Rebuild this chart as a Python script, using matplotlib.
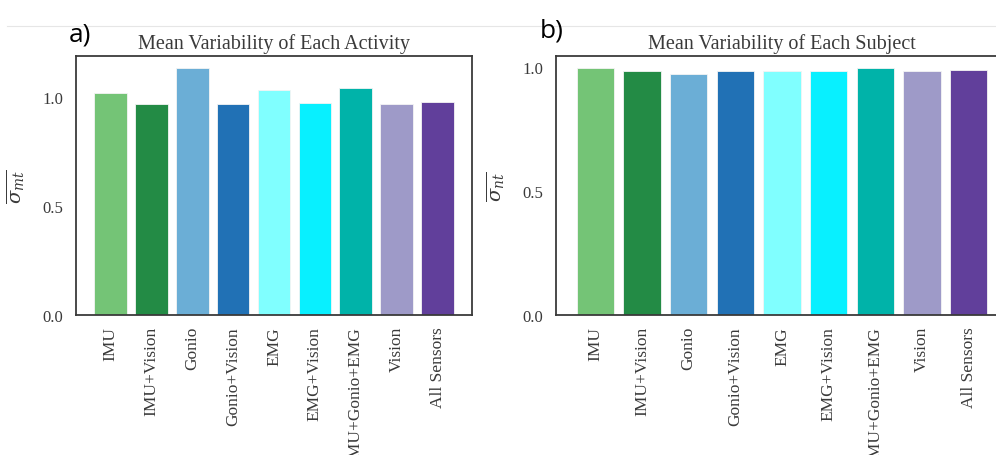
import matplotlib
matplotlib.use("Agg")
import matplotlib.pyplot as plt
from matplotlib.lines import Line2D

# sensor combinations shown on both panels
sensors = ["IMU", "IMU+Vision", "Gonio", "Gonio+Vision", "EMG",
           "EMG+Vision", "IMU+Gonio+EMG", "Vision", "All Sensors"]

# mean variability per activity (panel a) and per subject (panel b)
activity_var = [1.015, 0.966, 1.130, 0.966, 1.032, 0.972, 1.038, 0.966, 0.978]
subject_var = [0.996, 0.987, 0.973, 0.987, 0.987, 0.987, 0.996, 0.987, 0.991]

bar_colors = ["#74c476", "#238b45", "#6baed6", "#2171b5", "#80ffff",
              "#08f0ff", "#00b3a9", "#9e9ac8", "#613f9b"]

plt.rcParams["font.family"] = ["Liberation Serif", "DejaVu Serif"]
plt.rcParams["mathtext.fontset"] = "dejavuserif"

fig = plt.figure(figsize=(9.96, 4.56), dpi=100)

# faint rule across the top of the page
fig.add_artist(Line2D([0.007, 1.0], [1 - 27 / 456, 1 - 27 / 456],
                      color="#e6e6e6", lw=0.8))

ax1 = fig.add_axes([76 / 996, 140 / 456, 396 / 996, 259 / 456])
ax2 = fig.add_axes([556 / 996, 140 / 456, 452 / 996, 259 / 456])


def draw_panel(ax, values, title, ylab, ticks):
    x = range(len(sensors))
    ax.bar(x, values, width=0.8, color=bar_colors, edgecolor="#f4f4f4",
           linewidth=0.6)
    ax.set_xticks(list(x))
    ax.set_xticklabels(sensors, rotation=90, fontsize=12.5, color="#3a3a3a")
    ax.set_yticks(ticks)
    ax.set_yticklabels(["%.1f" % t for t in ticks], fontsize=12,
                       color="#3a3a3a")
    ax.tick_params(axis="x", length=0, pad=8)
    ax.tick_params(axis="y", length=0, pad=9)
    ax.set_title(title, fontsize=14.5, color="#3a3a3a", pad=6)
    ax.set_ylabel(ylab, fontsize=14, color="#3a3a3a", labelpad=11)
    for s in ax.spines.values():
        s.set_color("#3a3a3a")
        s.set_linewidth(1.3)


draw_panel(ax1, activity_var, "Mean Variability of Each Activity",
           r"$\overline{\sigma_{mt}}$", [0.0, 0.5, 1.0])
draw_panel(ax2, subject_var, "Mean Variability of Each Subject",
           r"$\overline{\sigma_{nt}}$", [0.0, 0.5, 1.0])

# panel letters
fig.text(69 / 996, 1 - 42 / 456, "a)", fontsize=19, family="Open Sans")
fig.text(540 / 996, 1 - 37 / 456, "b)", fontsize=19, family="Open Sans")

fig.savefig("out.png", dpi=100)
